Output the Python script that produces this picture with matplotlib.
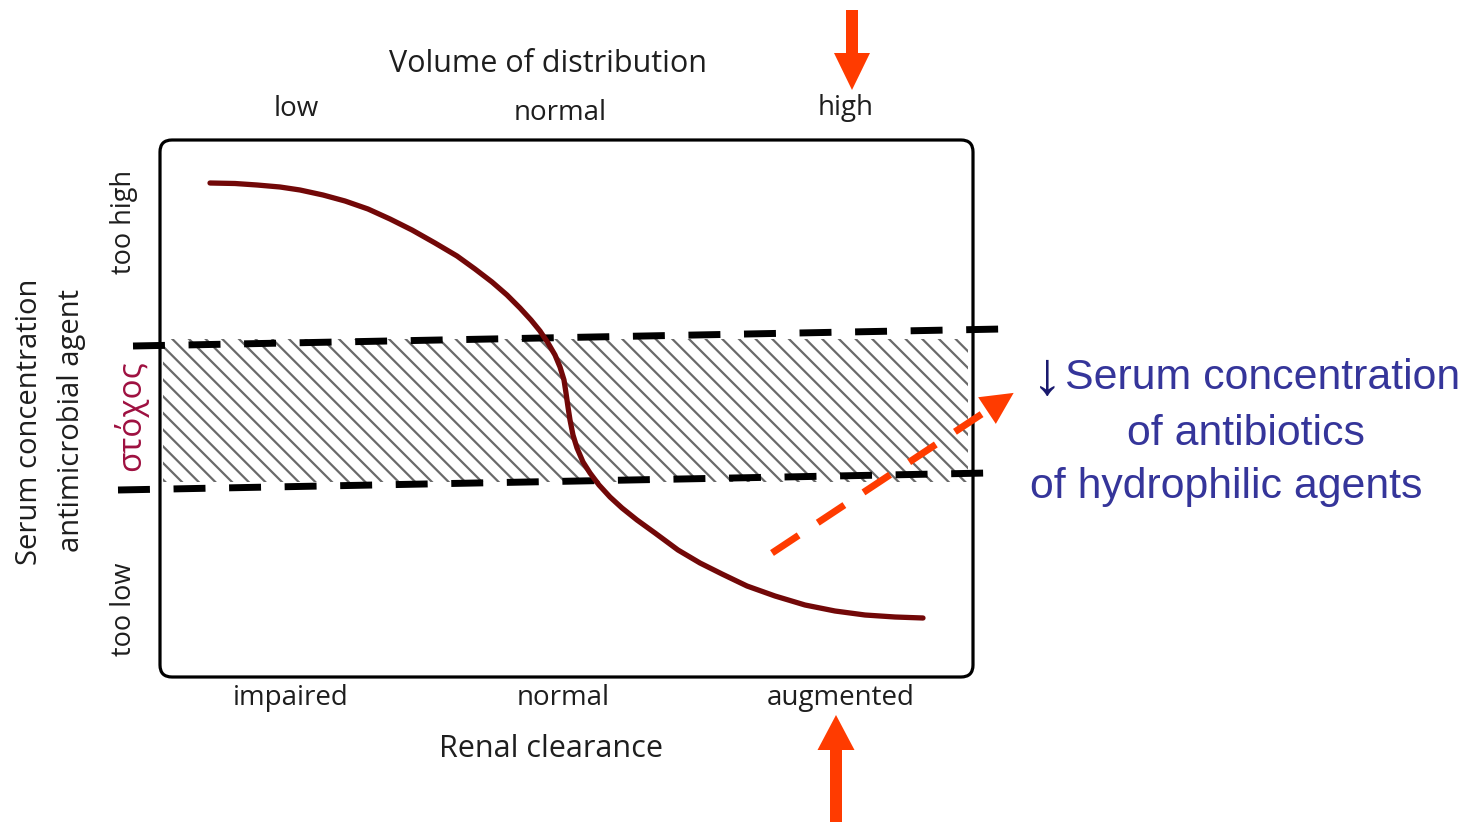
import matplotlib
matplotlib.use("Agg")
from matplotlib import pyplot as plt
from matplotlib.patches import FancyBboxPatch, Rectangle
import numpy as np

# curve (pixel coords, y down)
curve_x = [210, 235, 257, 280, 300, 323, 345, 368, 390, 412, 435, 457, 475, 492, 507, 520,
           531, 540, 548, 555, 560, 564, 566, 568, 570, 573, 577, 583, 590, 599, 610, 622,
           637, 655, 678, 700, 722, 747, 775, 805, 835, 865, 895, 923]
curve_y = [183, 183.5, 185, 187, 190, 195, 201, 209, 219, 230, 243, 256, 269, 282, 295, 308,
           320, 331, 343, 355, 367, 380, 393, 407, 420, 435, 448, 462, 473, 485, 497, 508,
           520, 533, 550, 563, 574, 586, 596, 605, 611, 615, 617, 618]

# target band
band_top = [(133, 346), (1002, 329)]
band_bottom = [(118, 490), (988, 473)]
hatch_box = (163, 339, 968, 482)

top_labels = ["low", "normal", "high"]
top_x = [296, 560, 846]
top_y = [109, 113, 108]
bottom_labels = ["impaired", "normal", "augmented"]
bottom_x = [291, 563, 841]

side_text = ["↓", "Serum concentration", "of antibiotics", "of hydrophilic agents"]

fig = plt.figure(figsize=(14.74, 8.24), dpi=100)
ax = fig.add_axes([0, 0, 1, 1])
ax.set_xlim(0, 1474)
ax.set_ylim(824, 0)
ax.axis("off")

font = "Open Sans"
dark = "#1e1e1e"
fs = 20  # small labels
fs_title = 22

# frame
box = FancyBboxPatch((160, 140), 813, 537, boxstyle="round,pad=0,rounding_size=12",
                     fill=False, edgecolor="black", linewidth=2.3, zorder=3)
ax.add_patch(box)

# hatched target area
x0, y0, x1, y1 = hatch_box
plt.rcParams["hatch.linewidth"] = 1.6
ax.add_patch(Rectangle((x0, y0), x1 - x0, y1 - y0, fill=False, hatch="\\\\",
                       edgecolor="#6a6a6a", linewidth=0, zorder=1))

for seg in [band_top, band_bottom]:
    xs = [p[0] for p in seg]
    ys = [p[1] for p in seg]
    ax.plot(xs, ys, color="black", linewidth=5, dashes=(4.6, 3.4), solid_capstyle="butt",
            dash_capstyle="butt", zorder=4)

# the curve
ax.plot(curve_x, curve_y, color="#720808", linewidth=3.8, solid_capstyle="round",
        solid_joinstyle="round", zorder=5)

# red dashed arrow
start = np.array([772, 553])
tip = np.array([1012, 394])
d = tip - start
d = d / np.linalg.norm(d)
base = tip - d * 30
ax.plot([start[0], base[0]], [start[1], base[1]], color="#ff3b00", linewidth=5,
        dashes=(4.6, 3.3), dash_capstyle="butt", zorder=6)
ax.arrow(base[0], base[1], d[0] * 32, d[1] * 32, width=0.1, head_width=32, head_length=32,
         length_includes_head=True, color="#ff3b00", linewidth=0, zorder=6)

# solid red arrows
ax.arrow(852, 10, 0, 80, width=12, head_width=36, head_length=37,
         length_includes_head=True, color="#ff3b00", linewidth=0)
ax.arrow(836, 822, 0, -107, width=12, head_width=37, head_length=35,
         length_includes_head=True, color="#ff3b00", linewidth=0)

# axis texts
ax.text(548, 64, "Volume of distribution", fontsize=fs_title, family=font, color=dark,
        ha="center", va="center")
for lab, x, y in zip(top_labels, top_x, top_y):
    ax.text(x, y, lab, fontsize=fs, family=font, color=dark, ha="center", va="center")
for lab, x in zip(bottom_labels, bottom_x):
    ax.text(x, 698, lab, fontsize=fs, family=font, color=dark, ha="center", va="center")
ax.text(551, 749, "Renal clearance", fontsize=fs_title, family=font, color=dark,
        ha="center", va="center")

ax.text(30, 422, "Serum concentration", fontsize=21, family=font, color=dark,
        rotation=90, ha="center", va="center")
ax.text(72, 420, "antimicrobial agent", fontsize=21, family=font, color=dark,
        rotation=90, ha="center", va="center")
ax.text(124, 222, "too high", fontsize=19.5, family=font, color=dark,
        rotation=90, ha="center", va="center")
ax.text(124, 609, "too low", fontsize=19.5, family=font, color=dark,
        rotation=90, ha="center", va="center")
ax.text(131, 416, "στόχος", fontsize=24, family=["Open Sans", "DejaVu Sans"], color="#9e1040",
        rotation=90, ha="center", va="center")

# right side note
ax.text(1047, 378, side_text[0], fontsize=44, family=["Liberation Sans", "DejaVu Sans"],
        color="#1a1a6e", ha="center", va="center")
ax.text(1065, 378, side_text[1], fontsize=30.8, family="Liberation Sans", color="#35359a",
        ha="left", va="center")
ax.text(1246, 434, side_text[2], fontsize=30.8, family="Liberation Sans", color="#35359a",
        ha="center", va="center")
ax.text(1226, 487, side_text[3], fontsize=30.8, family="Liberation Sans", color="#35359a",
        ha="center", va="center")

plt.savefig("out.png", dpi=100)
plt.close()
